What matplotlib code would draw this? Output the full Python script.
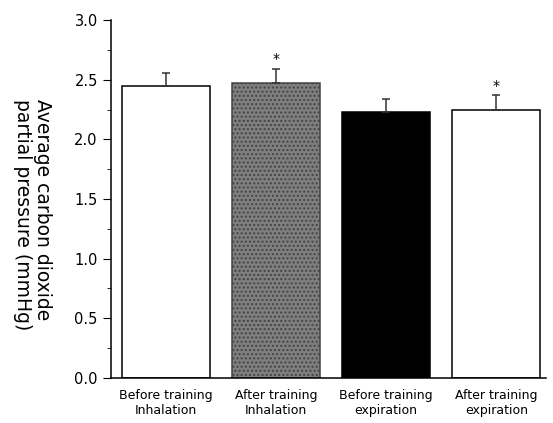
import numpy as np
import matplotlib.pyplot as plt
from matplotlib.ticker import MultipleLocator

labels = ["Before training\nInhalation", "After training\nInhalation",
          "Before training\nexpiration", "After training\nexpiration"]
values = [2.45, 2.47, 2.23, 2.25]
errors = [0.11, 0.12, 0.11, 0.12]
significant = [False, True, False, True]

colors = ["white", "#7f7f7f", "black", "white"]
hatches = [None, "....", None, None]

fig = plt.figure(figsize=(5.53, 4.23), dpi=100)
ax = fig.add_axes([0.2007, 0.1064, 0.7863, 0.8463])

x = np.arange(len(values))
bars = ax.bar(x, values, width=0.8, color=colors, edgecolor="black", linewidth=1.1,
              yerr=[np.zeros(len(errors)), errors],
              error_kw=dict(ecolor="#333333", elinewidth=1.1, capsize=3, capthick=1.1))
for b, h in zip(bars, hatches):
    if h:
        b.set_hatch(h)
        b.set_edgecolor("#444444")

for xi, v, e, s in zip(x, values, errors, significant):
    if s:
        ax.text(xi, v + e + 0.08, "*", ha="center", va="center", fontsize=10)

ax.set_xlim(-0.5, 3.45)
ax.set_ylim(0, 3.0)
ax.yaxis.set_major_locator(MultipleLocator(0.5))
ax.yaxis.set_minor_locator(MultipleLocator(0.25))
ax.yaxis.set_major_formatter(plt.FormatStrFormatter("%.1f"))
ax.set_xticks(x)
ax.set_xticklabels(labels, fontsize=9)
ax.tick_params(axis="x", length=0, pad=8)
ax.tick_params(axis="y", which="major", length=6, labelsize=10.5, direction="out")
ax.tick_params(axis="y", which="minor", length=3, direction="out")

ax.spines["top"].set_visible(False)
ax.spines["right"].set_visible(False)
ax.spines["left"].set_linewidth(1.1)
ax.spines["bottom"].set_linewidth(1.1)

ax.set_ylabel("Average carbon dioxide\npartial pressure (mmHg)", fontsize=13.5,
              rotation=270, va="center", ha="center", multialignment="left",
              linespacing=1.1)
ax.yaxis.set_label_coords(-0.18, 0.455)

fig.savefig("out.png", dpi=100)
